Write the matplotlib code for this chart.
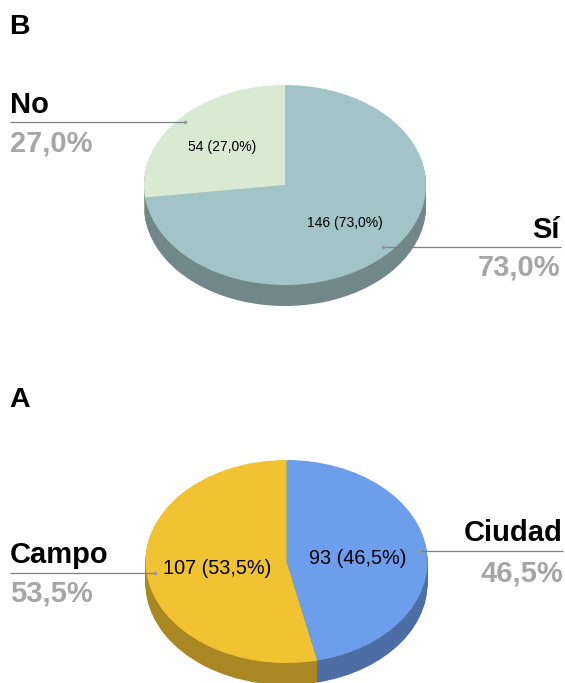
import matplotlib
matplotlib.use('Agg')
import matplotlib.pyplot as plt

W, H = 565, 683

# datos de cada grafico
labels_b = ['Sí', 'No']
values_b = [146, 54]
colors_b = ['#a2c4c9', '#d9ead3']
dark_b = ['#71878a', '#98a392']

labels_a = ['Ciudad', 'Campo']
values_a = [93, 107]
colors_a = ['#6d9eeb', '#f1c232']
dark_a = ['#4c6ea4', '#a98722']

plt.rcParams['font.family'] = ['Liberation Sans', 'DejaVu Sans']
fig = plt.figure(figsize=(W / 100, H / 100), dpi=100, facecolor='white')


def pie3d(values, colors, dark, cx, cy, rx, ry, depth):
    # axes en pixeles: un circulo unitario estirado hasta ser elipse
    ax = fig.add_axes([(cx - rx * 1.25) / W, 1 - (cy + ry * 1.25) / H, rx * 2.5 / W, ry * 2.5 / H])
    for d in range(depth, 0, -1):
        ax.pie(values, colors=dark, startangle=90, counterclock=False,
               center=(0, -d / ry), wedgeprops={'linewidth': 0})
    ax.pie(values, colors=colors, startangle=90, counterclock=False,
           wedgeprops={'linewidth': 0})
    ax.set_aspect('auto')
    ax.set_xlim(-1.25, 1.25)
    ax.set_ylim(-1.25, 1.25)
    ax.axis('off')


pie3d(values_b, colors_b, dark_b, 285, 185, 141, 100, 21)
pie3d(values_a, colors_a, dark_a, 286.5, 561.5, 141, 101.5, 22)

top = fig.add_axes([0, 0, 1, 1], facecolor='none')
top.set_xlim(0, W)
top.set_ylim(H, 0)
top.axis('off')


def pct(values, i):
    return f'{values[i] / sum(values) * 100:.1f}%'.replace('.', ',')


def callout(name, share, x0, x1, y, tx, ha, base1, base2):
    top.plot([x0, x1], [y, y], color='#808080', lw=0.9, solid_capstyle='butt')
    dot = x1 if ha == 'left' else x0
    top.plot([dot], [y], 'o', color='#999999', ms=2.6, mew=0)
    top.text(tx, base1, name, fontsize=21, fontweight='bold', color='black', ha=ha, va='baseline')
    top.text(tx, base2, share, fontsize=21, fontweight='bold', color='#a6a6a6', ha=ha, va='baseline')


top.text(9, 34, 'B', fontsize=20.5, fontweight='bold', ha='left', va='baseline')
top.text(9, 407, 'A', fontsize=20.5, fontweight='bold', ha='left', va='baseline')

callout(labels_b[1], pct(values_b, 1), 10, 185, 122, 10, 'left', 113, 152)
callout(labels_b[0], pct(values_b, 0), 383, 561, 247, 560, 'right', 238, 276)
callout(labels_a[1], pct(values_a, 1), 10, 155, 573, 10, 'left', 563, 602)
callout(labels_a[0], pct(values_a, 0), 419, 563, 551, 563, 'right', 541, 581)

top.text(222, 147, f'{values_b[1]} ({pct(values_b, 1)})', fontsize=10, ha='center', va='center')
top.text(345, 223, f'{values_b[0]} ({pct(values_b, 0)})', fontsize=10, ha='center', va='center')
top.text(217, 569, f'{values_a[1]} ({pct(values_a, 1)})', fontsize=14.3, ha='center', va='center')
top.text(358, 559, f'{values_a[0]} ({pct(values_a, 0)})', fontsize=14.3, ha='center', va='center')

fig.savefig('out.png', dpi=100)
